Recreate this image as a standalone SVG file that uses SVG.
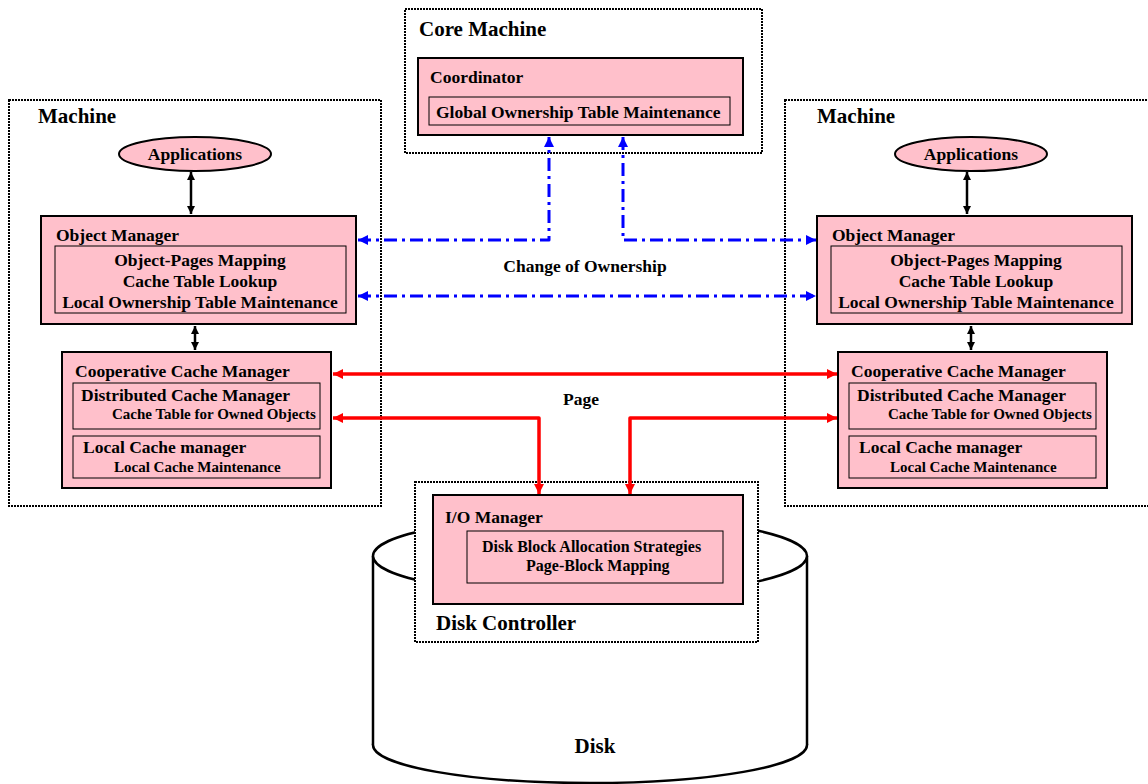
<svg xmlns="http://www.w3.org/2000/svg" width="1148" height="784" viewBox="0 0 1148 784">
<defs>
<style>
text{font-family:"Liberation Serif","Times New Roman",serif;font-weight:bold;fill:#000}
.t21{font-size:21px}
.t17{font-size:17.5px}
.t16{font-size:16px}
.t15{font-size:15px}
.mid{text-anchor:middle}
.dot{fill:#fff;stroke:#000;stroke-width:2;stroke-dasharray:2,1}
.box{fill:#FFC0CB;stroke:#000;stroke-width:2}
.inner{fill:none;stroke:#000;stroke-width:1}
.blk{fill:none;stroke:#000;stroke-width:2.5;marker-start:url(#ab);marker-end:url(#ab)}
.blue{fill:none;stroke:#0000FF;stroke-width:3;stroke-dasharray:13,5,3,5;stroke-linejoin:round;marker-start:url(#abl);marker-end:url(#abl)}
.red{fill:none;stroke:#FF0000;stroke-width:3.5;stroke-linejoin:round;marker-start:url(#ar);marker-end:url(#ar)}
.cyl{fill:#fff;stroke:#000;stroke-width:2.5}
</style>
<marker id="ab" viewBox="0 0 10 10" refX="10" refY="5" markerWidth="8" markerHeight="8" markerUnits="userSpaceOnUse" orient="auto-start-reverse"><path d="M0,0 L10,5 L0,10 z" fill="#000"/></marker>
<marker id="abl" viewBox="0 0 10 10" refX="10" refY="5" markerWidth="11" markerHeight="10" markerUnits="userSpaceOnUse" orient="auto-start-reverse"><path d="M0,0 L10,5 L0,10 z" fill="#0000FF"/></marker>
<marker id="ar" viewBox="0 0 10 10" refX="10" refY="5" markerWidth="11" markerHeight="10" markerUnits="userSpaceOnUse" orient="auto-start-reverse"><path d="M0,0 L10,5 L0,10 z" fill="#FF0000"/></marker>
</defs>
<rect x="0" y="0" width="1148" height="784" fill="#fff"/>

<g id="disk">
<ellipse class="cyl" cx="590" cy="745" rx="217" ry="38"/>
<rect x="373" y="556" width="434" height="189" fill="#fff" stroke="none"/>
<line x1="373" y1="556" x2="373" y2="745" stroke="#000" stroke-width="2.5"/>
<line x1="807" y1="556" x2="807" y2="745" stroke="#000" stroke-width="2.5"/>
<ellipse class="cyl" cx="590" cy="556" rx="217" ry="40"/>
<text class="t21 mid" x="595" y="753">Disk</text>
</g>

<g id="disk-controller">
<rect class="dot" x="415" y="482" width="343" height="160"/>
<text class="t21" x="436" y="630">Disk Controller</text>
</g>
<g id="io-manager">
<rect class="box" x="433" y="495" width="310" height="109"/>
<text class="t17" x="445" y="523">I/O Manager</text>
<rect class="inner" x="467" y="531" width="256" height="52"/>
<text class="t16" x="482" y="552">Disk Block Allocation Strategies</text>
<text class="t16" x="526" y="571">Page-Block Mapping</text>
</g>

<g id="core-machine">
<rect class="dot" x="405" y="9" width="357" height="144"/>
<text class="t21" x="419" y="36">Core Machine</text>
</g>
<g id="coordinator">
<rect class="box" x="418" y="58" width="325" height="77"/>
<text class="t17" x="430" y="83">Coordinator</text>
<rect class="inner" x="429" y="97" width="301" height="28"/>
<text class="t17" x="436" y="118">Global Ownership Table Maintenance</text>
</g>

<g id="machine-left">
<rect class="dot" x="9" y="100" width="372" height="406"/>
<text class="t21" x="38" y="123">Machine</text>
</g>
<g id="applications-left">
<ellipse cx="195" cy="154" rx="76" ry="17" fill="#FFC0CB" stroke="#000" stroke-width="2"/>
<text class="t17 mid" x="195" y="160">Applications</text>
</g>
<g id="object-manager-left">
<rect class="box" x="41" y="216" width="315" height="108"/>
<text class="t17" x="56" y="241">Object Manager</text>
<rect class="inner" x="55" y="246" width="291" height="67"/>
<text class="t17 mid" x="200" y="266">Object-Pages Mapping</text>
<text class="t17 mid" x="200" y="287">Cache Table Lookup</text>
<text class="t17 mid" x="200" y="308">Local Ownership Table Maintenance</text>
</g>
<g id="ccm-left">
<rect class="box" x="62" y="352" width="269" height="136"/>
<text class="t17" x="75" y="377">Cooperative Cache Manager</text>
<rect class="inner" x="73" y="383" width="247" height="46"/>
<text class="t17" x="81" y="401">Distributed Cache Manager</text>
<text class="t15" x="112" y="419">Cache Table for Owned Objects</text>
<rect class="inner" x="73" y="436" width="247" height="42"/>
<text class="t17" x="83" y="453">Local Cache manager</text>
<text class="t15" x="114" y="472">Local Cache Maintenance</text>
</g>

<g id="machine-right">
<rect class="dot" x="785" y="100" width="372" height="406"/>
<text class="t21" x="817" y="123">Machine</text>
</g>
<g id="applications-right">
<ellipse cx="971" cy="154" rx="76" ry="17" fill="#FFC0CB" stroke="#000" stroke-width="2"/>
<text class="t17 mid" x="971" y="160">Applications</text>
</g>
<g id="object-manager-right">
<rect class="box" x="817" y="216" width="315" height="108"/>
<text class="t17" x="832" y="241">Object Manager</text>
<rect class="inner" x="831" y="246" width="291" height="67"/>
<text class="t17 mid" x="976" y="266">Object-Pages Mapping</text>
<text class="t17 mid" x="976" y="287">Cache Table Lookup</text>
<text class="t17 mid" x="976" y="308">Local Ownership Table Maintenance</text>
</g>
<g id="ccm-right">
<rect class="box" x="838" y="352" width="269" height="136"/>
<text class="t17" x="851" y="377">Cooperative Cache Manager</text>
<rect class="inner" x="849" y="383" width="247" height="46"/>
<text class="t17" x="857" y="401">Distributed Cache Manager</text>
<text class="t15" x="888" y="419">Cache Table for Owned Objects</text>
<rect class="inner" x="849" y="436" width="247" height="42"/>
<text class="t17" x="859" y="453">Local Cache manager</text>
<text class="t15" x="890" y="472">Local Cache Maintenance</text>
</g>

<g id="connectors">
<line class="blk" x1="191" y1="172" x2="191" y2="214"/>
<line class="blk" x1="195" y1="326" x2="195" y2="350"/>
<line class="blk" x1="967" y1="172" x2="967" y2="214"/>
<line class="blk" x1="971" y1="326" x2="971" y2="350"/>
<path class="blue" d="M358,240 L549,240 L549,137"/>
<path class="blue" d="M623,137 L623,240 L816,240"/>
<path class="blue" d="M358,296 L816,296"/>
<text class="t17 mid" x="585" y="272">Change of Ownership</text>
<path class="red" d="M333,374 L837,374"/>
<path class="red" d="M333,418 L539,418 L539,494"/>
<path class="red" d="M630,494 L630,418 L837,418"/>
<text class="t17 mid" x="581" y="405">Page</text>
</g>
</svg>
